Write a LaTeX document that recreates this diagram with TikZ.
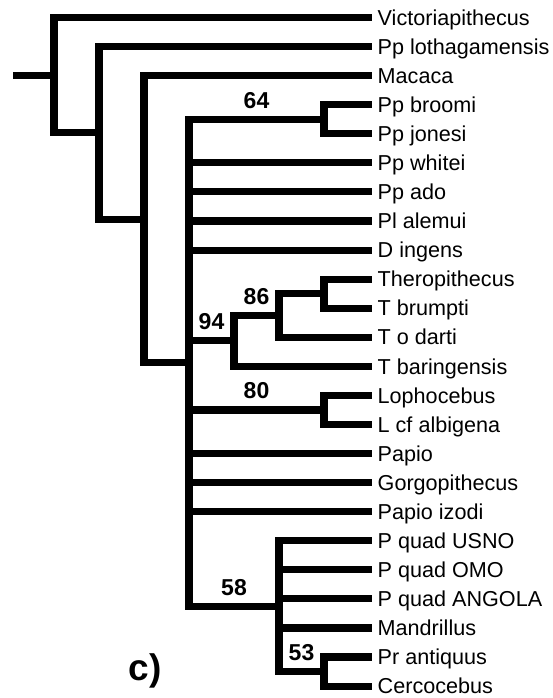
\documentclass[tikz,border=0pt]{standalone}
\usepackage{fontspec}
\setsansfont{Liberation Sans}
\tikzset{
  branch/.style={line width=7.1pt, line join=miter, line cap=butt},
  taxon/.style={anchor=west, inner xsep=5.5pt, inner ysep=0pt, text height=15.4pt, text depth=0pt,
    font=\sffamily\fontsize{21.6}{24}\selectfont},
  boot/.style={above=7.6pt, inner sep=0pt, text height=16.5pt, text depth=0pt,
    font=\sffamily\bfseries\fontsize{23}{25}\selectfont},
  panel/.style={anchor=base, inner sep=0pt, font=\sffamily\bfseries\fontsize{37}{40}\selectfont}
}
\begin{document}
\begin{tikzpicture}[x=1pt, y=-1pt]
  \useasboundingbox (0,0) rectangle (553,698);
  % taxa
  \node[taxon] (victoria) at (372,17.5) {Victoriapithecus};
  \node[taxon] (lotha) at (372,46.57) {Pp lothagamensis};
  \node[taxon] (macaca) at (372,75.64) {Macaca};
  \node[taxon] (broomi) at (372,104.71) {Pp broomi};
  \node[taxon] (jonesi) at (372,133.78) {Pp jonesi};
  \node[taxon] (whitei) at (372,162.85) {Pp whitei};
  \node[taxon] (ado) at (372,191.92) {Pp ado};
  \node[taxon] (alemui) at (372,220.99) {Pl alemui};
  \node[taxon] (ingens) at (372,250.06) {D ingens};
  \node[taxon] (thero) at (372,279.13) {Theropithecus};
  \node[taxon] (brumpti) at (372,308.2) {T brumpti};
  \node[taxon] (darti) at (372,337.27) {T o darti};
  \node[taxon] (baring) at (372,366.34) {T baringensis};
  \node[taxon] (lopho) at (372,395.41) {Lophocebus};
  \node[taxon] (albig) at (372,424.48) {L cf albigena};
  \node[taxon] (papio) at (372,453.55) {Papio};
  \node[taxon] (gorgo) at (372,482.62) {Gorgopithecus};
  \node[taxon] (izodi) at (372,511.69) {Papio izodi};
  \node[taxon] (usno) at (372,540.76) {P quad USNO};
  \node[taxon] (omo) at (372,569.83) {P quad OMO};
  \node[taxon] (angola) at (372,598.9) {P quad ANGOLA};
  \node[taxon] (mandrill) at (372,627.97) {Mandrillus};
  \node[taxon] (antiq) at (372,657.04) {Pr antiquus};
  \node[taxon] (cerco) at (372,686.11) {Cercocebus};
  % internal nodes
  \coordinate (root) at (13,75.19);
  \coordinate (nA) at (54,75.19);
  \coordinate (nB) at (99,132.87);
  \coordinate (nC) at (144,219.18);
  \coordinate (nD) at (189,362.71);
  \coordinate (n64) at (324,119.25);
  \coordinate (nthero) at (324,293.67);
  \coordinate (n86) at (279,315.47);
  \coordinate (n94) at (234,340.9);
  \coordinate (n80) at (324,409.95);
  \coordinate (n58) at (279,606.17);
  \coordinate (n53) at (324,671.58);
  % branches
  \draw[branch] (root) -- (nA);
  \draw[branch] (nA) |- (victoria.west);
  \draw[branch] (nA) |- (nB);
  \draw[branch] (nB) |- (lotha.west);
  \draw[branch] (nB) |- (nC);
  \draw[branch] (nC) |- (macaca.west);
  \draw[branch] (nC) |- (nD);
  \draw[branch] (nD) |- node[boot, pos=0.75] {64} (n64);
  \draw[branch] (n64) |- (broomi.west);
  \draw[branch] (n64) |- (jonesi.west);
  \draw[branch] (nD) |- (whitei.west);
  \draw[branch] (nD) |- (ado.west);
  \draw[branch] (nD) |- (alemui.west);
  \draw[branch] (nD) |- (ingens.west);
  \draw[branch] (nD) |- node[boot, pos=0.75] {94} (n94);
  \draw[branch] (n94) |- node[boot, pos=0.75] {86} (n86);
  \draw[branch] (n94) |- (baring.west);
  \draw[branch] (n86) |- (nthero);
  \draw[branch] (n86) |- (darti.west);
  \draw[branch] (nthero) |- (thero.west);
  \draw[branch] (nthero) |- (brumpti.west);
  \draw[branch] (nD) |- node[boot, pos=0.75] {80} (n80);
  \draw[branch] (n80) |- (lopho.west);
  \draw[branch] (n80) |- (albig.west);
  \draw[branch] (nD) |- (papio.west);
  \draw[branch] (nD) |- (gorgo.west);
  \draw[branch] (nD) |- (izodi.west);
  \draw[branch] (nD) |- node[boot, pos=0.75] {58} (n58);
  \draw[branch] (n58) |- (usno.west);
  \draw[branch] (n58) |- (omo.west);
  \draw[branch] (n58) |- (angola.west);
  \draw[branch] (n58) |- (mandrill.west);
  \draw[branch] (n58) |- node[boot, pos=0.75] {53} (n53);
  \draw[branch] (n53) |- (antiq.west);
  \draw[branch] (n53) |- (cerco.west);
  % panel tag
  \node[panel] (tag) at (145,680) {c)};
\end{tikzpicture}
\end{document}
